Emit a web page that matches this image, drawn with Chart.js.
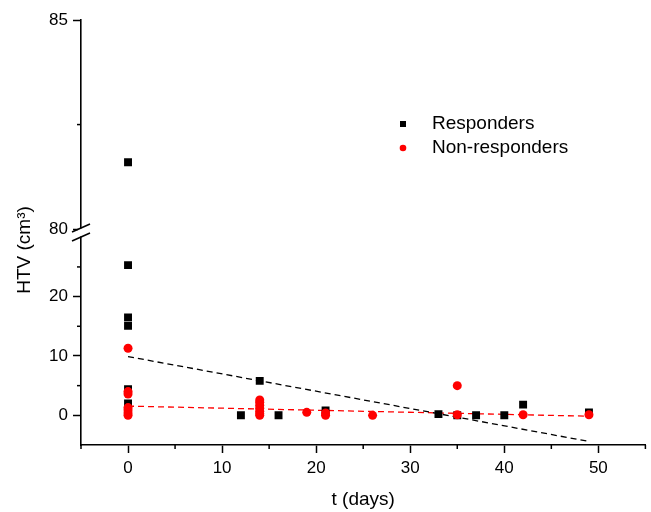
<!DOCTYPE html>
<html><head><meta charset="utf-8">
<script src="https://cdn.jsdelivr.net/npm/chart.js@4.4.1/dist/chart.umd.min.js"></script>
<style>html,body{margin:0;padding:0;background:#fff;} canvas{display:block;}</style>
</head><body>
<canvas id="c" width="651" height="512"></canvas>
<script>
// ---- data ----
const respondersX = [0, 0, 0, 0, 0, 12, 14, 16, 21, 33, 35, 37, 40, 42, 49];
const respondersY = [25.3, 16.5, 15.1, 4.4, 2.0, 0, 5.8, 0, 0.8, 0.2, 0, 0, 0, 1.8, 0.5];
const respondersHighX = [0];
const respondersHighY = [81.6];
const nonRespondersX = [0, 0, 0, 0, 0, 0, 0, 14, 14, 14, 14, 14, 14, 14, 19, 21, 21, 26, 35, 35, 42, 49];
const nonRespondersY = [11.3, 4.0, 3.6, 1.3, 0.9, 0.4, 0.0, 2.6, 2.2, 1.7, 1.2, 0.7, 0.3, 0.0, 0.5, 0.4, 0.0, 0.0, 5.0, 0.1, 0.1, 0.1];
const fitRespondersX = [0, 49];
const fitRespondersY = [9.9, -4.4];
const fitNonRespondersX = [0, 49];
const fitNonRespondersY = [1.55, -0.15];
const xTicks = [-5, 0, 5, 10, 15, 20, 25, 30, 35, 40, 45, 50, 55];
const xTickLabels = [0, 10, 20, 30, 40, 50];
const yLowTicks = [0, 5, 10, 15, 20, 25];
const yLowTickLabels = [0, 10, 20];
const yHighTicks = [80, 82.5, 85];
const yHighTickLabels = [80, 85];
const seriesNames = ['Responders', 'Non-responders'];

const FONT = "'Liberation Sans', Arial, sans-serif";
function pts(xs, ys) { return xs.map((x, i) => ({ x: x, y: ys[i] })); }
function tickOpts(labels) {
  return { autoSkip: false, padding: 5, color: '#000', maxRotation: 0,
    font: { family: FONT, size: 17 },
    callback: (v) => labels.includes(v) ? String(v) : '' };
}
function gridOpts(labels) {
  return { drawOnChartArea: false, drawTicks: true, tickLength: 8, tickWidth: 1.5,
    tickColor: (ctx) => (ctx.tick && labels.includes(ctx.tick.value)) ? '#000' : 'rgba(0,0,0,0)' };
}
const border = { display: true, color: '#000', width: 1.6 };

const customPlugin = {
  id: 'custom',
  afterDraw(chart) {
    const ctx = chart.ctx;
    const xs = chart.scales.x, yl = chart.scales.yLow, yh = chart.scales.yHigh;
    const axisX = chart.chartArea.left;
    const axisY = chart.chartArea.bottom;
    ctx.save();
    ctx.strokeStyle = '#000';
    ctx.lineWidth = 1.5;
    // minor ticks
    const minor = (scale, ticks, labels, horiz) => {
      ticks.filter(v => !labels.includes(v)).forEach(v => {
        const p = scale.getPixelForValue(v);
        ctx.beginPath();
        if (horiz) { ctx.moveTo(p, axisY); ctx.lineTo(p, axisY + 4); }
        else { ctx.moveTo(axisX, p); ctx.lineTo(axisX - 4, p); }
        ctx.stroke();
      });
    };
    minor(xs, xTicks, xTickLabels, true);
    minor(yl, yLowTicks, yLowTickLabels, false);
    minor(yh, yHighTicks, yHighTickLabels, false);
    // axis break
    const b = Math.min(yl.top, yh.bottom);
    ctx.fillStyle = '#fff';
    ctx.fillRect(axisX - 3, b - 4, 6, 8);
    ctx.lineWidth = 1.6;
    [b - 4.5, b + 4.5].forEach(cy => {
      ctx.beginPath();
      ctx.moveTo(axisX - 9, cy + 4);
      ctx.lineTo(axisX + 9, cy - 4);
      ctx.stroke();
    });
    // y title
    ctx.fillStyle = '#000';
    ctx.font = '19px ' + FONT;
    ctx.textAlign = 'center';
    ctx.textBaseline = 'middle';
    ctx.translate(25, 250);
    ctx.rotate(-Math.PI / 2);
    ctx.fillText('HTV (cm\u00B3)', 0, 0);
    ctx.restore();
    // legend
    ctx.save();
    const lx = 403, ly = 124, gap = 24;
    ctx.fillStyle = '#000';
    ctx.fillRect(lx - 3, ly - 3, 6, 6);
    ctx.fillStyle = '#ff0000';
    ctx.beginPath(); ctx.arc(lx, ly + gap, 3.3, 0, Math.PI * 2); ctx.fill();
    ctx.fillStyle = '#000';
    ctx.font = '19px ' + FONT;
    ctx.textBaseline = 'middle';
    ctx.fillText(seriesNames[0], 432, ly);
    ctx.fillText(seriesNames[1], 432, ly + gap);
    ctx.restore();
  }
};

new Chart(document.getElementById('c'), {
  type: 'scatter',
  data: {
    datasets: [
      { label: seriesNames[1], data: pts(nonRespondersX, nonRespondersY), yAxisID: 'yLow',
        pointStyle: 'circle', pointRadius: 4.5, backgroundColor: '#ff0000', borderColor: '#ff0000', borderWidth: 0, order: 1 },
      { label: seriesNames[0], data: pts(respondersX, respondersY), yAxisID: 'yLow',
        pointStyle: 'rect', pointRadius: 5.6, backgroundColor: '#000', borderColor: '#000', borderWidth: 0, order: 2 },
      { label: seriesNames[0] + ' ', data: pts(respondersHighX, respondersHighY), yAxisID: 'yHigh',
        pointStyle: 'rect', pointRadius: 5.6, backgroundColor: '#000', borderColor: '#000', borderWidth: 0, order: 2 },
      { label: 'fit R', data: pts(fitRespondersX, fitRespondersY), yAxisID: 'yLow', showLine: true,
        pointRadius: 0, borderColor: '#000', borderWidth: 1.3, borderDash: [6, 4], order: 3 },
      { label: 'fit N', data: pts(fitNonRespondersX, fitNonRespondersY), yAxisID: 'yLow', showLine: true,
        pointRadius: 0, borderColor: '#ff0000', borderWidth: 1.3, borderDash: [6, 4], order: 3 }
    ]
  },
  options: {
    responsive: false, animation: false, devicePixelRatio: 1,
    layout: { padding: { left: 0, right: 1, top: 20, bottom: 0 } },
    plugins: { legend: { display: false }, tooltip: { enabled: false } },
    scales: {
      x: { type: 'linear', min: -5, max: 55, border: border, grid: gridOpts(xTickLabels), ticks: tickOpts(xTickLabels),
        afterBuildTicks: s => { s.ticks = xTicks.map(v => ({ value: v })); },
        afterFit: s => { s.height = 67; },
        title: { display: true, text: 't (days)', color: '#000', font: { family: FONT, size: 19 }, padding: { top: 4, bottom: 1 } } },
      yLow: { type: 'linear', position: 'left', stack: 'ys', stackWeight: 1, min: -5, max: 30.8,
        border: border, grid: gridOpts(yLowTickLabels), ticks: tickOpts(yLowTickLabels),
        afterBuildTicks: s => { s.ticks = yLowTicks.map(v => ({ value: v })); },
        afterFit: s => { s.width = 81; } },
      yHigh: { type: 'linear', position: 'left', stack: 'ys', stackWeight: 1, min: 79.92, max: 85,
        border: border, grid: gridOpts(yHighTickLabels), ticks: tickOpts(yHighTickLabels),
        afterBuildTicks: s => { s.ticks = yHighTicks.map(v => ({ value: v })); },
        afterFit: s => { s.width = 81; } }
    }
  },
  plugins: [customPlugin]
});
</script>
</body></html>
